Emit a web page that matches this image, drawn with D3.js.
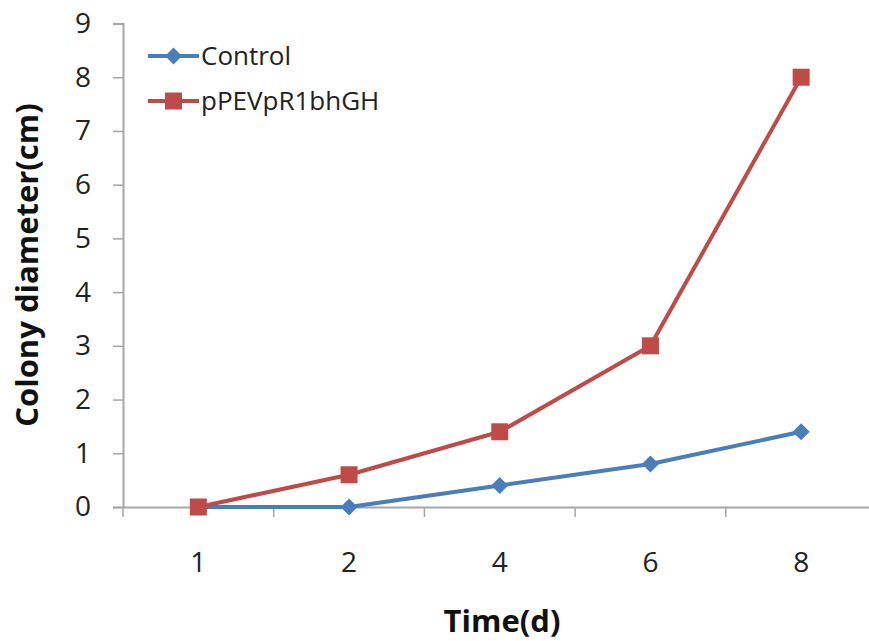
<!DOCTYPE html>
<html>
<head>
<meta charset="utf-8">
<script src="https://cdn.jsdelivr.net/npm/d3@7"></script>
<style>
  html, body { margin: 0; padding: 0; background: #fff; }
  svg { display: block; }
</style>
</head>
<body>
<svg id="chart" width="869" height="641"></svg>
<script>
// Colony growth over time for two strains
const days = ["1", "2", "4", "6", "8"];
const controlValues = [0, 0, 0.4, 0.8, 1.4];
const transformantValues = [0, 0.6, 1.4, 3, 8];
const seriesNames = ["Control", "pPEVpR1bhGH"];
const yTicks = [0, 1, 2, 3, 4, 5, 6, 7, 8, 9];

const series = [
  { name: seriesNames[0], values: controlValues, color: "#4a7ebb", marker: "diamond" },
  { name: seriesNames[1], values: transformantValues, color: "#be4b48", marker: "square" }
];

const svg = d3.select("#chart");
const font = "'Open Sans', 'Noto Sans', sans-serif";
const axisColor = "#a6a6a6";

const x = d3.scaleBand().domain(days).range([123, 876.5]);
const y = d3.scaleLinear().domain([0, 9]).range([507, 23.5]);

// y axis
const yAxis = svg.append("g").attr("transform", "translate(123,0)")
  .call(d3.axisLeft(y).tickValues(yTicks).tickSize(10).tickPadding(22));
yAxis.select(".domain").attr("stroke", axisColor).attr("stroke-width", 2);
yAxis.selectAll(".tick line").attr("stroke", axisColor).attr("stroke-width", 1.5);
yAxis.selectAll(".tick text")
  .attr("font-family", font).attr("font-size", 28).attr("fill", "#222");

// x axis (ticks between categories)
const xAxis = svg.append("g").attr("transform", "translate(0,507)")
  .call(d3.axisBottom(x).tickSize(0).tickPadding(45));
xAxis.select(".domain").attr("stroke", axisColor).attr("stroke-width", 2);
xAxis.selectAll(".tick text")
  .attr("font-family", font).attr("font-size", 28).attr("fill", "#222");
const bounds = days.map(d => x(d)).concat([x(days[days.length - 1]) + x.bandwidth()]);
xAxis.selectAll(".sep").data(bounds).enter().append("line")
  .attr("class", "sep")
  .attr("x1", d => d).attr("x2", d => d)
  .attr("y1", 0).attr("y2", 10)
  .attr("stroke", axisColor).attr("stroke-width", 1.5);

// axis titles
svg.append("text")
  .attr("transform", "translate(38,265) rotate(-90)")
  .attr("text-anchor", "middle")
  .attr("font-family", font).attr("font-weight", "bold").attr("font-size", 31)
  .attr("fill", "#111")
  .text("Colony diameter(cm)");
svg.append("text")
  .attr("x", 502).attr("y", 632)
  .attr("text-anchor", "middle")
  .attr("font-family", font).attr("font-weight", "bold").attr("font-size", 31)
  .attr("fill", "#111")
  .text("Time(d)");

const cx = (i) => x(days[i]) + x.bandwidth() / 2;
const line = d3.line().x((d, i) => cx(i)).y(d => y(d));

function drawMarker(g, type, px, py, color) {
  if (type === "square") {
    g.append("rect").attr("x", px - 8.5).attr("y", py - 8.5)
      .attr("width", 17).attr("height", 17).attr("fill", color);
  } else {
    const r = 8.5;
    g.append("path")
      .attr("d", `M${px},${py - r}L${px + r},${py}L${px},${py + r}L${px - r},${py}Z`)
      .attr("fill", color);
  }
}

const plot = svg.append("g");
series.forEach(s => {
  plot.append("path").datum(s.values)
    .attr("d", line)
    .attr("fill", "none")
    .attr("stroke", s.color)
    .attr("stroke-width", 4)
    .attr("stroke-linejoin", "round");
  s.values.forEach((v, i) => drawMarker(plot, s.marker, cx(i), y(v), s.color));
});

// legend
const legend = svg.append("g");
series.forEach((s, i) => {
  const ly = 56 + i * 45;
  legend.append("line")
    .attr("x1", 148).attr("x2", 199).attr("y1", ly).attr("y2", ly)
    .attr("stroke", s.color).attr("stroke-width", 4);
  drawMarker(legend, s.marker, 173.5, ly, s.color);
  legend.append("text")
    .attr("x", 201).attr("y", ly + 9)
    .attr("font-family", font).attr("font-size", 26).attr("fill", "#222")
    .text(s.name);
});
</script>
</body>
</html>
